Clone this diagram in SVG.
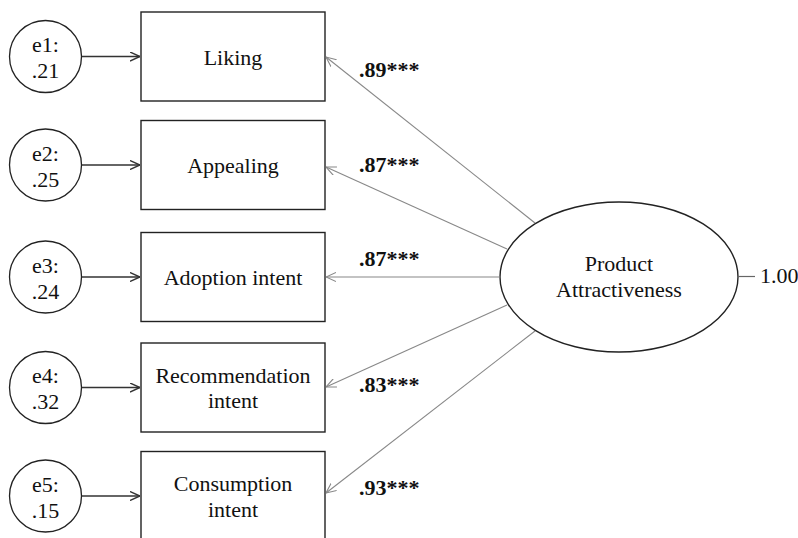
<svg xmlns="http://www.w3.org/2000/svg" width="798" height="538" viewBox="0 0 798 538">
  <style>
    text { font-family: "Liberation Serif", "Times New Roman", serif; font-size: 22px; fill: #111; text-anchor: middle; }
    .box { fill: #fff; stroke: #222; stroke-width: 1.4; }
    .err { fill: #fff; stroke: #222; stroke-width: 1.3; }
    .latent { fill: #fff; stroke: #222; stroke-width: 1.4; }
    .res { stroke: #333; stroke-width: 1.4; fill: none; marker-end: url(#dark); }
    .load { stroke: #888; stroke-width: 1.1; fill: none; marker-end: url(#grey); }
    .coef { font-weight: bold; text-anchor: start; }
    .num { text-anchor: start; }
  </style>
  <defs>
    <marker id="dark" viewBox="0 0 10 10" refX="10" refY="5" markerWidth="10" markerHeight="10" markerUnits="userSpaceOnUse" orient="auto">
      <path d="M0,0.5 L10,5 L0,9.5" fill="none" stroke="#333" stroke-width="1.4"/>
    </marker>
    <marker id="grey" viewBox="0 0 10 10" refX="10" refY="5" markerWidth="10" markerHeight="10" markerUnits="userSpaceOnUse" orient="auto">
      <path d="M0,0.5 L10,5 L0,9.5" fill="none" stroke="#888" stroke-width="1.1"/>
    </marker>
  </defs>

  <!-- residual circles -->
  <g id="e1"><circle class="err" cx="45.5" cy="56.5" r="36"/><text x="45.5" y="52">e1:</text><text x="45.5" y="78">.21</text></g>
  <g id="e2"><circle class="err" cx="45.5" cy="165" r="36"/><text x="45.5" y="160.5">e2:</text><text x="45.5" y="186.5">.25</text></g>
  <g id="e3"><circle class="err" cx="45.5" cy="277" r="36"/><text x="45.5" y="272.5">e3:</text><text x="45.5" y="298.5">.24</text></g>
  <g id="e4"><circle class="err" cx="45.5" cy="387.5" r="36"/><text x="45.5" y="383">e4:</text><text x="45.5" y="409">.32</text></g>
  <g id="e5"><circle class="err" cx="45.5" cy="496" r="36"/><text x="45.5" y="491.5">e5:</text><text x="45.5" y="517.5">.15</text></g>

  <!-- observed indicators -->
  <g id="liking"><rect class="box" x="141" y="12" width="184" height="89"/><text x="233" y="65">Liking</text></g>
  <g id="appealing"><rect class="box" x="141" y="120.5" width="184" height="89"/><text x="233" y="173">Appealing</text></g>
  <g id="adoption"><rect class="box" x="141" y="232.5" width="184" height="89"/><text x="233" y="285">Adoption intent</text></g>
  <g id="recommendation"><rect class="box" x="141" y="343" width="184" height="89"/><text x="233" y="382.5">Recommendation</text><text x="233" y="408">intent</text></g>
  <g id="consumption"><rect class="box" x="141" y="451.5" width="184" height="92"/><text x="233" y="491">Consumption</text><text x="233" y="517">intent</text></g>

  <!-- latent factor -->
  <g id="product-attractiveness">
    <ellipse class="latent" cx="619" cy="277" rx="119" ry="75"/>
    <text x="619" y="271">Product</text>
    <text x="619" y="297">Attractiveness</text>
  </g>

  <!-- connectors -->
  <g id="connectors">
    <line class="res" x1="82" y1="56.5" x2="140" y2="56.5"/>
    <line class="res" x1="82" y1="165" x2="140" y2="165"/>
    <line class="res" x1="82" y1="277" x2="140" y2="277"/>
    <line class="res" x1="82" y1="387.5" x2="140" y2="387.5"/>
    <line class="res" x1="82" y1="496" x2="140" y2="496"/>

    <line class="load" x1="535" y1="223" x2="326" y2="57"/>
    <line class="load" x1="507" y1="249" x2="326" y2="167"/>
    <line class="load" x1="500" y1="277" x2="326" y2="277"/>
    <line class="load" x1="507" y1="305" x2="326" y2="387"/>
    <line class="load" x1="535" y1="331" x2="326" y2="493"/>

    <line x1="738" y1="276.5" x2="755" y2="276.5" stroke="#666" stroke-width="1.2"/>
  </g>

  <!-- loadings and variance -->
  <g id="labels">
    <text class="coef" x="359" y="77">.89***</text>
    <text class="coef" x="359" y="172">.87***</text>
    <text class="coef" x="359" y="266">.87***</text>
    <text class="coef" x="359" y="392">.83***</text>
    <text class="coef" x="359" y="495">.93***</text>
    <text class="num" x="760" y="283">1.00</text>
  </g>
</svg>
